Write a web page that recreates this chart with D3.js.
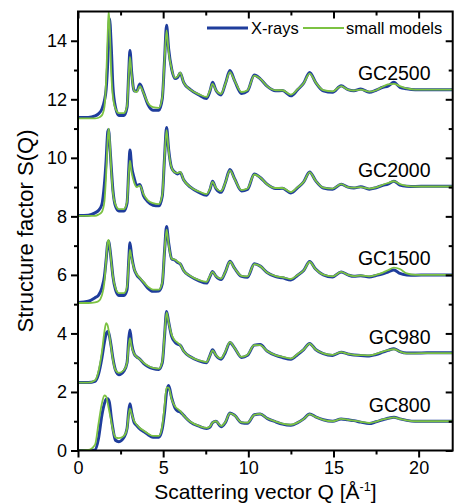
<!DOCTYPE html>
<html>
<head>
<meta charset="utf-8">
<script src="https://cdn.jsdelivr.net/npm/d3@7"></script>
<style>
html,body{margin:0;padding:0;background:#fff;}
svg{display:block;}
text{font-family:"Liberation Sans",Arial,Helvetica,sans-serif;fill:#000;}
</style>
</head>
<body>
<svg id="chart" width="454" height="504"></svg>
<script>
// Scattering vector grid (Å^-1)
const qGrid = [0,0.6,1.0,1.2,1.4,1.55,1.65,1.75,1.8,1.85,1.95,2.05,2.2,2.4,2.7,2.88,2.98,3.05,3.15,3.3,3.45,3.63,3.85,4.1,4.4,4.75,4.95,5.08,5.2,5.32,5.5,5.7,5.85,6.0,6.2,6.6,7.1,7.55,7.75,7.9,8.1,8.4,8.65,8.92,9.2,9.6,9.95,10.35,10.7,11.1,11.6,12.0,12.5,12.9,13.25,13.6,13.95,14.4,14.95,15.45,15.85,16.2,16.6,17.1,17.5,17.9,18.2,18.55,18.9,19.3,19.8,20.5,21.2,22];

const samples = ["GC800","GC980","GC1500","GC2000","GC2500"];
const offsets = [0, 2.3, 5.0, 8.0, 11.33];

// X-ray S(Q) (unshifted)
const xray800  = [0,0,0.02,0.4,1.2,1.6,1.75,1.77,1.72,1.62,1.15,0.75,0.35,0.3,0.45,0.75,1.35,1.6,1.3,0.95,0.85,0.74,0.65,0.55,0.45,0.45,0.75,1.3,2.0,2.22,1.8,1.45,1.35,1.32,1.2,0.97,0.83,0.75,0.8,0.95,1.0,0.81,0.95,1.28,1.2,0.95,0.93,1.22,1.25,1.1,0.98,0.9,0.86,0.95,1.08,1.25,1.15,1.05,1.0,1.08,1.05,1.02,0.97,0.92,0.98,1.05,1.1,1.14,1.08,1.03,1.0,1.0,1.0,1.0];
const xray980  = [0.02,0.02,0.06,0.3,0.85,1.4,1.68,1.77,1.72,1.6,1.25,0.85,0.45,0.29,0.42,0.7,1.5,1.82,1.35,1.0,0.9,0.82,0.68,0.57,0.5,0.47,0.7,1.6,2.45,2.1,1.6,1.4,1.33,1.3,1.1,0.9,0.76,0.7,0.95,1.14,0.95,0.82,1.05,1.39,1.2,0.88,0.95,1.3,1.32,1.1,0.95,0.88,0.82,0.98,1.15,1.36,1.15,1.01,0.95,1.06,1.0,0.96,0.95,0.93,0.98,1.06,1.12,1.18,1.08,1.03,1.03,1.04,1.04,1.04];
const xray1500 = [0.06,0.1,0.22,0.3,0.55,0.95,1.5,2.1,2.15,2.0,1.5,0.95,0.5,0.3,0.3,0.5,1.5,2.1,1.65,1.2,1.0,0.88,0.73,0.55,0.44,0.45,0.7,1.8,2.65,2.1,1.55,1.5,1.42,1.38,1.15,0.95,0.8,0.72,0.95,1.12,0.95,0.84,1.1,1.47,1.22,0.95,0.92,1.38,1.3,1.08,0.94,0.9,0.83,0.99,1.15,1.46,1.2,1.0,0.93,1.1,1.0,0.95,0.97,0.93,0.98,1.04,1.1,1.17,1.05,1.0,0.99,1.0,1.0,1.0];
const xray2000 = [0.03,0.04,0.12,0.2,0.4,1.1,1.9,2.9,2.97,2.6,1.7,0.9,0.35,0.18,0.18,0.45,1.6,2.27,1.7,1.3,1.05,1.09,0.7,0.5,0.38,0.36,0.7,2.0,3.04,2.3,1.65,1.5,1.45,1.5,1.25,1.0,0.82,0.72,0.92,1.2,0.95,0.82,1.15,1.6,1.28,0.87,0.92,1.45,1.33,1.1,0.95,0.96,0.8,0.98,1.18,1.52,1.22,0.97,0.93,1.1,1.0,0.97,1.01,0.93,0.98,1.06,1.1,1.2,1.07,1.03,1.02,1.03,1.03,1.03];
const xray2500 = [0.05,0.05,0.1,0.17,0.33,0.62,1.0,2.0,2.8,3.42,2.5,1.1,0.4,0.12,0.12,0.4,1.6,2.34,1.6,0.95,0.95,1.19,0.9,0.5,0.3,0.3,0.7,2.0,3.2,2.4,1.7,1.38,1.42,1.57,1.25,1.0,0.82,0.7,0.95,1.25,0.98,0.82,1.2,1.65,1.3,0.87,0.95,1.5,1.37,1.12,0.96,0.97,0.79,1.0,1.22,1.59,1.25,0.96,0.91,1.13,1.0,0.96,1.02,0.91,0.98,1.08,1.12,1.25,1.08,1.03,1.0,1.0,1.0,1.0];

// small-model S(Q) (unshifted)
const model800  = [0,0.02,0.2,0.9,1.6,1.88,1.85,1.6,1.45,1.3,1.0,0.7,0.45,0.42,0.5,0.75,1.25,1.43,1.25,1.0,0.88,0.77,0.68,0.58,0.5,0.5,0.85,1.5,2.15,2.15,1.75,1.5,1.42,1.35,1.2,0.98,0.84,0.77,0.82,0.96,1.0,0.84,0.97,1.27,1.2,0.96,0.95,1.22,1.25,1.1,0.99,0.92,0.88,0.96,1.08,1.24,1.15,1.05,1.0,1.08,1.05,1.02,0.98,0.94,0.99,1.06,1.1,1.13,1.08,1.03,1.0,1.0,1.0,1.0];
const model980  = [0.02,0.02,0.1,0.4,1.05,1.75,2.05,1.95,1.8,1.6,1.2,0.8,0.45,0.35,0.45,0.7,1.3,1.54,1.25,1.0,0.9,0.82,0.7,0.6,0.52,0.5,0.75,1.65,2.42,2.08,1.65,1.45,1.38,1.3,1.1,0.9,0.78,0.72,0.95,1.12,0.96,0.85,1.08,1.4,1.2,0.9,0.97,1.3,1.3,1.1,0.96,0.9,0.84,1.0,1.15,1.35,1.15,1.02,0.97,1.06,1.0,0.97,0.96,0.95,1.0,1.08,1.13,1.16,1.08,1.02,1.02,1.03,1.03,1.03];
const model1500 = [0.04,0.04,0.06,0.1,0.3,0.75,1.5,2.15,2.2,2.0,1.45,0.95,0.55,0.38,0.38,0.6,1.4,1.85,1.55,1.2,1.02,0.9,0.75,0.6,0.5,0.5,0.75,1.8,2.55,2.05,1.55,1.52,1.45,1.38,1.15,0.96,0.82,0.76,0.97,1.1,0.96,0.87,1.1,1.45,1.22,0.97,0.95,1.37,1.3,1.08,0.96,0.92,0.86,1.0,1.15,1.44,1.2,1.01,0.95,1.1,1.0,0.96,0.98,0.95,1.0,1.08,1.16,1.25,1.2,1.05,1.0,1.0,1.0,1.0];
const model2000 = [0.02,0.02,0.02,0.06,0.15,0.5,1.4,2.7,3.0,2.7,1.6,0.8,0.4,0.25,0.25,0.5,1.45,1.9,1.5,1.15,1.0,1.05,0.75,0.55,0.45,0.42,0.75,2.0,2.95,2.25,1.65,1.5,1.48,1.52,1.25,1.0,0.85,0.76,0.95,1.18,0.97,0.86,1.15,1.57,1.27,0.9,0.95,1.43,1.33,1.1,0.97,0.97,0.83,1.0,1.18,1.5,1.22,0.98,0.95,1.1,1.0,0.98,1.0,0.95,0.99,1.08,1.14,1.2,1.1,1.04,1.02,1.02,1.02,1.02];
const model2500 = [0.02,0.02,0.02,0.04,0.12,0.4,1.3,3.0,3.67,3.3,1.6,0.75,0.35,0.2,0.2,0.45,1.5,2.12,1.5,0.95,0.92,1.12,0.88,0.55,0.4,0.38,0.75,2.0,3.02,2.3,1.7,1.4,1.45,1.58,1.25,1.0,0.84,0.75,0.98,1.2,0.98,0.86,1.2,1.6,1.3,0.92,0.98,1.48,1.37,1.12,0.98,0.98,0.83,1.02,1.22,1.55,1.25,0.98,0.94,1.12,1.0,0.97,1.0,0.93,0.98,1.1,1.18,1.2,1.12,1.04,1.0,1.0,1.0,1.0];

const xraySeries  = [xray800, xray980, xray1500, xray2000, xray2500];
const modelSeries = [model800, model980, model1500, model2000, model2500];

const xMajor = [0,5,10,15,20];
const xMinor = [2.5,7.5,12.5,17.5];
const yMajor = [0,2,4,6,8,10,12,14];
const yMinor = [1,3,5,7,9,11,13];
const legendLabels = ["X-rays","small models"];

const blue = "#1f3d9c", green = "#7cc242";

const svg = d3.select("#chart");
const L = 78, R = 452.7, T = 11.5, B = 450.5;
const x = d3.scaleLinear().domain([0,22]).range([L,R]);
const y = d3.scaleLinear().domain([0,15]).range([B,T]);

svg.append("clipPath").attr("id","clip").append("rect")
  .attr("x",L).attr("y",T).attr("width",R-L).attr("height",B-T);

const line = d3.line().x(d=>x(d[0])).y(d=>y(d[1])).curve(d3.curveMonotoneX);
const g = svg.append("g").attr("clip-path","url(#clip)");

samples.forEach((s,i)=>{
  const off = offsets[i];
  const xd = qGrid.map((q,k)=>[q, xraySeries[i][k]+off]);
  const md = qGrid.map((q,k)=>[q, modelSeries[i][k]+off]);
  g.append("path").attr("d",line(xd)).attr("fill","none").attr("stroke",blue)
    .attr("stroke-width",3).attr("stroke-linejoin","round");
  g.append("path").attr("d",line(md)).attr("fill","none").attr("stroke",green)
    .attr("stroke-width",1.8).attr("stroke-linejoin","round");
});

// sample labels
samples.forEach((s,i)=>{
  svg.append("text").attr("x",x(20.7)).attr("y",y(offsets[i]+1.33))
    .attr("text-anchor","end").attr("font-size",19.5).text(s);
});

// axes
function styleAxis(sel){
  sel.select(".domain").remove();
  sel.selectAll(".tick line").attr("stroke","#000").attr("stroke-width",2);
  sel.selectAll(".tick text").attr("font-size",18).attr("fill","#000")
     .attr("font-family","Liberation Sans, Arial, sans-serif");
}
svg.append("g").attr("transform",`translate(0,${B})`)
  .call(d3.axisBottom(x).tickValues(xMajor).tickSize(7).tickPadding(4).tickFormat(d3.format("d"))).call(styleAxis);
svg.append("g").attr("transform",`translate(0,${B})`)
  .call(d3.axisBottom(x).tickValues(xMinor).tickSize(4).tickFormat("")).call(styleAxis);
svg.append("g").attr("transform",`translate(${L},0)`)
  .call(d3.axisLeft(y).tickValues(yMajor).tickSize(7).tickPadding(4).tickFormat(d3.format("d"))).call(styleAxis);
svg.append("g").attr("transform",`translate(${L},0)`)
  .call(d3.axisLeft(y).tickValues(yMinor).tickSize(4).tickFormat("")).call(styleAxis);
svg.append("g").attr("transform",`translate(0,${T})`)
  .call(d3.axisTop(x).tickValues(xMajor).tickSize(-7).tickFormat("")).call(styleAxis);
svg.append("g").attr("transform",`translate(0,${T})`)
  .call(d3.axisTop(x).tickValues(xMinor).tickSize(-4).tickFormat("")).call(styleAxis);
svg.append("g").attr("transform",`translate(${R},0)`)
  .call(d3.axisRight(y).tickValues(yMajor).tickSize(-7).tickFormat("")).call(styleAxis);
svg.append("g").attr("transform",`translate(${R},0)`)
  .call(d3.axisRight(y).tickValues(yMinor).tickSize(-4).tickFormat("")).call(styleAxis);

svg.append("rect").attr("x",L).attr("y",T).attr("width",R-L).attr("height",B-T)
  .attr("fill","none").attr("stroke","#000").attr("stroke-width",2);

// axis titles
const xt = svg.append("text").attr("x",(L+R)/2).attr("y",499).attr("text-anchor","middle").attr("font-size",21);
xt.append("tspan").text("Scattering vector Q [Å");
xt.append("tspan").attr("font-size",12.5).attr("dy",-8.5).text("-1");
xt.append("tspan").attr("dy",8.5).text("]");

svg.append("text").attr("transform",`translate(33,${(T+B)/2}) rotate(-90)`)
  .attr("text-anchor","middle").attr("font-size",22).text("Structure factor S(Q)");

// legend
const lg = svg.append("g");
lg.append("line").attr("x1",207).attr("x2",248).attr("y1",28).attr("y2",28).attr("stroke",blue).attr("stroke-width",3);
lg.append("text").attr("x",251).attr("y",34).attr("font-size",16.5).text(legendLabels[0]);
lg.append("line").attr("x1",303).attr("x2",344).attr("y1",28).attr("y2",28).attr("stroke",green).attr("stroke-width",1.8);
lg.append("text").attr("x",346).attr("y",34).attr("font-size",16.5).text(legendLabels[1]);
</script>
</body>
</html>
